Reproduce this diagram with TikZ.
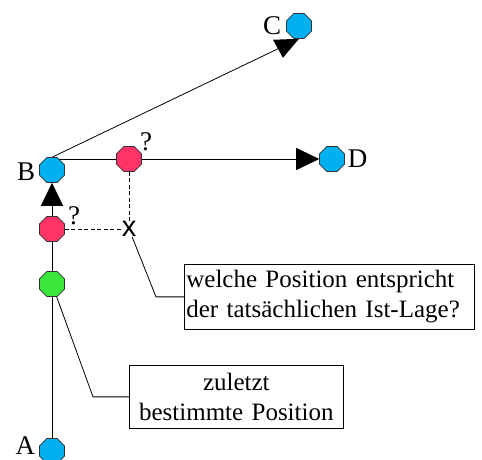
\documentclass[tikz,border=0pt]{standalone}
\usepackage{fontspec}
\setmainfont{Liberation Serif}
\setsansfont{Liberation Sans}
\usetikzlibrary{shapes.geometric,arrows.meta,backgrounds,positioning}
\definecolor{ptblue}{RGB}{0,176,240}
\definecolor{ptred}{RGB}{255,51,102}
\definecolor{ptgreen}{RGB}{60,230,60}
\tikzset{
  posmark/.style={regular polygon,regular polygon sides=8,draw=black!80,line width=.6pt,inner sep=0pt,minimum size=27pt},
  lbl/.style={inner sep=0pt,font=\fontsize{27}{30}\selectfont},
  infobox/.style={draw,line width=.7pt,font=\fontsize{25}{30}\selectfont,inner xsep=2pt,inner ysep=4pt},
  conn/.style={line width=.8pt},
  bigtip/.style={-{Triangle[length=23pt,width=22pt]}},
  guess/.style={conn,dash pattern=on 4pt off 2.5pt}
}

\begin{document}
\begin{tikzpicture}[x=1pt,y=-1pt]
\useasboundingbox (0,0) rectangle (482,460);
% positions
\node[posmark,fill=ptblue] (A) at (52,451) {};
\node[posmark,fill=ptgreen] (G) at (52,284) {};
\node[posmark,fill=ptred] (R1) at (52,229) {};
\node[posmark,fill=ptblue] (B) at (52,170) {};
\node[posmark,fill=ptred] (R2) at (129,159) {};
\node[posmark,fill=ptblue] (D) at (332,159) {};
\node[posmark,fill=ptblue] (C) at (299,26) {};
% names
\node[lbl,left=4pt of A,yshift=5pt] (lA) {A};
\node[lbl,left=4pt of B,yshift=-2pt] (lB) {B};
\node[lbl,left=5pt of C] (lC) {C};
\node[lbl,right=3pt of D] (lD) {D};
\node[lbl] (q1) at (74,216) {?};
\node[lbl] (q2) at (146,142) {?};
\node[inner sep=0pt,font=\sffamily\fontsize{29}{30}\selectfont] (X) at (129,229) {x};
% boxes
\node[infobox,anchor=north west,text width=286pt,minimum height=65pt,align=left] (Q) at (184,264)
  {welche Position entspricht\\der tatsächlichen Ist-Lage?};
\node[infobox,anchor=north west,text width=210pt,minimum height=63pt,align=center] (Z) at (129,365)
  {zuletzt\\bestimmte Position};
% connectors
\begin{scope}[on background layer]
\draw[conn,bigtip] (A) -- (B);
\draw[conn,bigtip] (B.center |- D) -- (D);
\draw[conn] (B.north) -- ([shift={(-21,10)}]C.south);
\fill (C.south) -- ++(-26,1) -- ++(10,18) -- cycle;
\draw[guess] (R1) -- (X);
\draw[guess] (R2) -- (X);
\draw[conn] (X) -- ([xshift=-28pt]Q.west) -- (Q.west);
\draw[conn] (G) -- ([xshift=-36pt]Z.west) -- (Z.west);
\end{scope}
\end{tikzpicture}
\end{document}
